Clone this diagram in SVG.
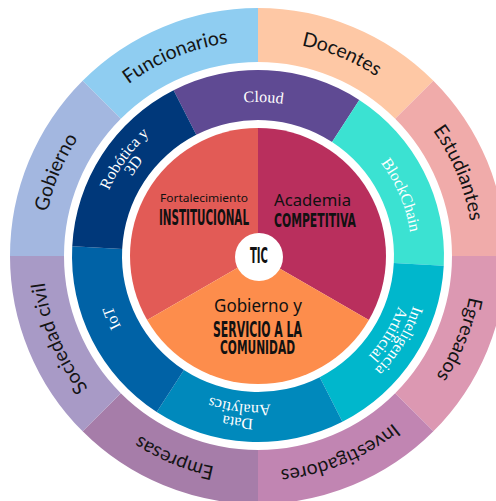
<svg xmlns="http://www.w3.org/2000/svg" xmlns:xlink="http://www.w3.org/1999/xlink" width="496" height="501" viewBox="0 0 496 501">
<style>
.outer{font-family:Lato,"Open Sans","Liberation Sans",sans-serif;font-size:19.5px;fill:#141414;}
.mid{font-family:"Liberation Serif","DejaVu Serif",serif;font-size:16px;fill:#ffffff;}
.geo{font-family:"Noto Sans","DejaVu Sans",sans-serif;fill:#111111;}
.cond{font-family:"Liberation Sans Narrow","DejaVu Sans Condensed","Liberation Sans",sans-serif;font-weight:bold;fill:#111111;}
</style>
<defs>
<path id="p215" d="M258,471 A215,215 0 1 1 258,41 A215,215 0 1 1 258,471"/>
<path id="p154" d="M258,410 A154,154 0 1 1 258,102 A154,154 0 1 1 258,410"/>
<path id="p163" d="M258,419 A163,163 0 1 1 258,93 A163,163 0 1 1 258,419"/>
<path id="p149" d="M258,405 A149,149 0 1 1 258,107 A149,149 0 1 1 258,405"/>
</defs>
<rect width="496" height="501" fill="#ffffff"/>

<g id="outer-ring">
<g id="funcionarios">
<path d="M82.64,80.64 A248,248 0 0 1 258,8 L258,62 A194,194 0 0 0 120.82,118.82 Z" fill="#8FCDF1"/>
<text class="outer" transform="rotate(-22.5 258 256)"><textPath xlink:href="#p215" href="#p215" startOffset="50%" text-anchor="middle">Funcionarios</textPath></text>
</g>
<g id="docentes">
<path d="M258,8 A248,248 0 0 1 433.36,80.64 L395.18,118.82 A194,194 0 0 0 258,62 Z" fill="#FEC8A5"/>
<text class="outer" transform="rotate(22.5 258 256)"><textPath xlink:href="#p215" href="#p215" startOffset="50%" text-anchor="middle">Docentes</textPath></text>
</g>
<g id="estudiantes">
<path d="M433.36,80.64 A248,248 0 0 1 506,256 L452,256 A194,194 0 0 0 395.18,118.82 Z" fill="#F0ABAA"/>
<text class="outer" transform="rotate(67.5 258 256)"><textPath xlink:href="#p215" href="#p215" startOffset="50%" text-anchor="middle">Estudiantes</textPath></text>
</g>
<g id="egresados">
<path d="M506,256 A248,248 0 0 1 433.36,431.36 L395.18,393.18 A194,194 0 0 0 452,256 Z" fill="#DC98B2"/>
<text class="outer" transform="rotate(112.5 258 256)"><textPath xlink:href="#p215" href="#p215" startOffset="50%" text-anchor="middle">Egresados</textPath></text>
</g>
<g id="investigadores">
<path d="M433.36,431.36 A248,248 0 0 1 258,504 L258,450 A194,194 0 0 0 395.18,393.18 Z" fill="#C185B2"/>
<text class="outer" transform="rotate(157.5 258 256)"><textPath xlink:href="#p215" href="#p215" startOffset="50%" text-anchor="middle">Investigadores</textPath></text>
</g>
<g id="empresas">
<path d="M258,504 A248,248 0 0 1 82.64,431.36 L120.82,393.18 A194,194 0 0 0 258,450 Z" fill="#A67DA9"/>
<text class="outer" transform="rotate(202.5 258 256)"><textPath xlink:href="#p215" href="#p215" startOffset="50%" text-anchor="middle">Empresas</textPath></text>
</g>
<g id="sociedad-civil">
<path d="M82.64,431.36 A248,248 0 0 1 10,256 L64,256 A194,194 0 0 0 120.82,393.18 Z" fill="#A89AC6"/>
<text class="outer" transform="rotate(247.5 258 256)"><textPath xlink:href="#p215" href="#p215" startOffset="50%" text-anchor="middle">Sociedad civil</textPath></text>
</g>
<g id="gobierno">
<path d="M10,256 A248,248 0 0 1 82.64,80.64 L120.82,118.82 A194,194 0 0 0 64,256 Z" fill="#A3B7E0"/>
<text class="outer" transform="rotate(292.5 258 256)"><textPath xlink:href="#p215" href="#p215" startOffset="50%" text-anchor="middle">Gobierno</textPath></text>
</g>
</g>

<g id="middle-ring">
<g id="cloud">
<path d="M173.56,90.27 A186,186 0 0 1 359.30,100.01 L332.07,141.94 A136,136 0 0 0 196.26,134.82 Z" fill="#5F4A93"/>
<text class="mid" transform="rotate(2 258 256)"><textPath xlink:href="#p154" href="#p154" startOffset="50%" text-anchor="middle">Cloud</textPath></text>
</g>
<g id="blockchain">
<path d="M359.30,100.01 A186,186 0 0 1 443.75,265.74 L393.81,263.12 A136,136 0 0 0 332.07,141.94 Z" fill="#3BE2D2"/>
<text class="mid" transform="rotate(67 258 256)"><textPath xlink:href="#p154" href="#p154" startOffset="50%" text-anchor="middle">BlockChain</textPath></text>
</g>
<g id="inteligencia-artificial">
<path d="M443.75,265.74 A186,186 0 0 1 342.44,421.73 L319.74,377.18 A136,136 0 0 0 393.81,263.12 Z" fill="#00B7CC"/>
<text class="mid" transform="rotate(121 258 256)"><textPath xlink:href="#p163" href="#p163" startOffset="50%" text-anchor="middle">Inteligencia</textPath></text>
<text class="mid" transform="rotate(121 258 256)"><textPath xlink:href="#p149" href="#p149" startOffset="50%" text-anchor="middle">Artificial</textPath></text>
</g>
<g id="data-analytics">
<path d="M342.44,421.73 A186,186 0 0 1 156.70,411.99 L183.93,370.06 A136,136 0 0 0 319.74,377.18 Z" fill="#0089BC"/>
<text class="mid" transform="rotate(187 258 256)"><textPath xlink:href="#p163" href="#p163" startOffset="50%" text-anchor="middle">Data</textPath></text>
<text class="mid" transform="rotate(187 258 256)"><textPath xlink:href="#p149" href="#p149" startOffset="50%" text-anchor="middle">Analytics</textPath></text>
</g>
<g id="iot">
<path d="M156.70,411.99 A186,186 0 0 1 72.25,246.26 L122.19,248.88 A136,136 0 0 0 183.93,370.06 Z" fill="#0062A6"/>
<text class="mid" transform="rotate(247 258 256)"><textPath xlink:href="#p154" href="#p154" startOffset="50%" text-anchor="middle">IoT</textPath></text>
</g>
<g id="robotica-3d">
<path d="M72.25,246.26 A186,186 0 0 1 173.56,90.27 L196.26,134.82 A136,136 0 0 0 122.19,248.88 Z" fill="#00387A"/>
<text class="mid" transform="rotate(306 258 256)"><textPath xlink:href="#p163" href="#p163" startOffset="50%" text-anchor="middle">Robótica y</textPath></text>
<text class="mid" transform="rotate(306 258 256)"><textPath xlink:href="#p149" href="#p149" startOffset="50%" text-anchor="middle">3D</textPath></text>
</g>
</g>

<g id="core">
<g id="fortalecimiento-institucional">
<path d="M258,256 L147.15,320 A128,128 0 0 1 258,128 Z" fill="#E25B56"/>
<text class="geo" x="204" y="201.5" font-size="11.5" text-anchor="middle" textLength="88" lengthAdjust="spacingAndGlyphs">Fortalecimiento</text>
<text class="cond" x="204" y="224.5" font-size="20.5" text-anchor="middle" textLength="90" lengthAdjust="spacingAndGlyphs">INSTITUCIONAL</text>
</g>
<g id="academia-competitiva">
<path d="M258,256 L258,128 A128,128 0 0 1 368.85,320 Z" fill="#B92F5D"/>
<text class="geo" x="312.5" y="206" font-size="16" text-anchor="middle" textLength="77" lengthAdjust="spacingAndGlyphs">Academia</text>
<text class="cond" x="315" y="227" font-size="20" text-anchor="middle" textLength="82" lengthAdjust="spacingAndGlyphs">COMPETITIVA</text>
</g>
<g id="gobierno-servicio">
<path d="M258,256 L368.85,320 A128,128 0 0 1 147.15,320 Z" fill="#FD8D4C"/>
<text class="geo" x="258" y="311.5" font-size="17.5" text-anchor="middle" textLength="88" lengthAdjust="spacingAndGlyphs">Gobierno y</text>
<text class="cond" x="257.5" y="336.5" font-size="20.5" text-anchor="middle" textLength="89" lengthAdjust="spacingAndGlyphs">SERVICIO A LA</text>
<text class="cond" x="257.5" y="353.5" font-size="19.5" text-anchor="middle" textLength="75" lengthAdjust="spacingAndGlyphs">COMUNIDAD</text>
</g>
<g id="tic">
<circle cx="259" cy="257" r="24" fill="#ffffff"/>
<text class="cond" x="259" y="263" font-size="20.5" text-anchor="middle" textLength="18" lengthAdjust="spacingAndGlyphs">TIC</text>
</g>
</g>
</svg>
